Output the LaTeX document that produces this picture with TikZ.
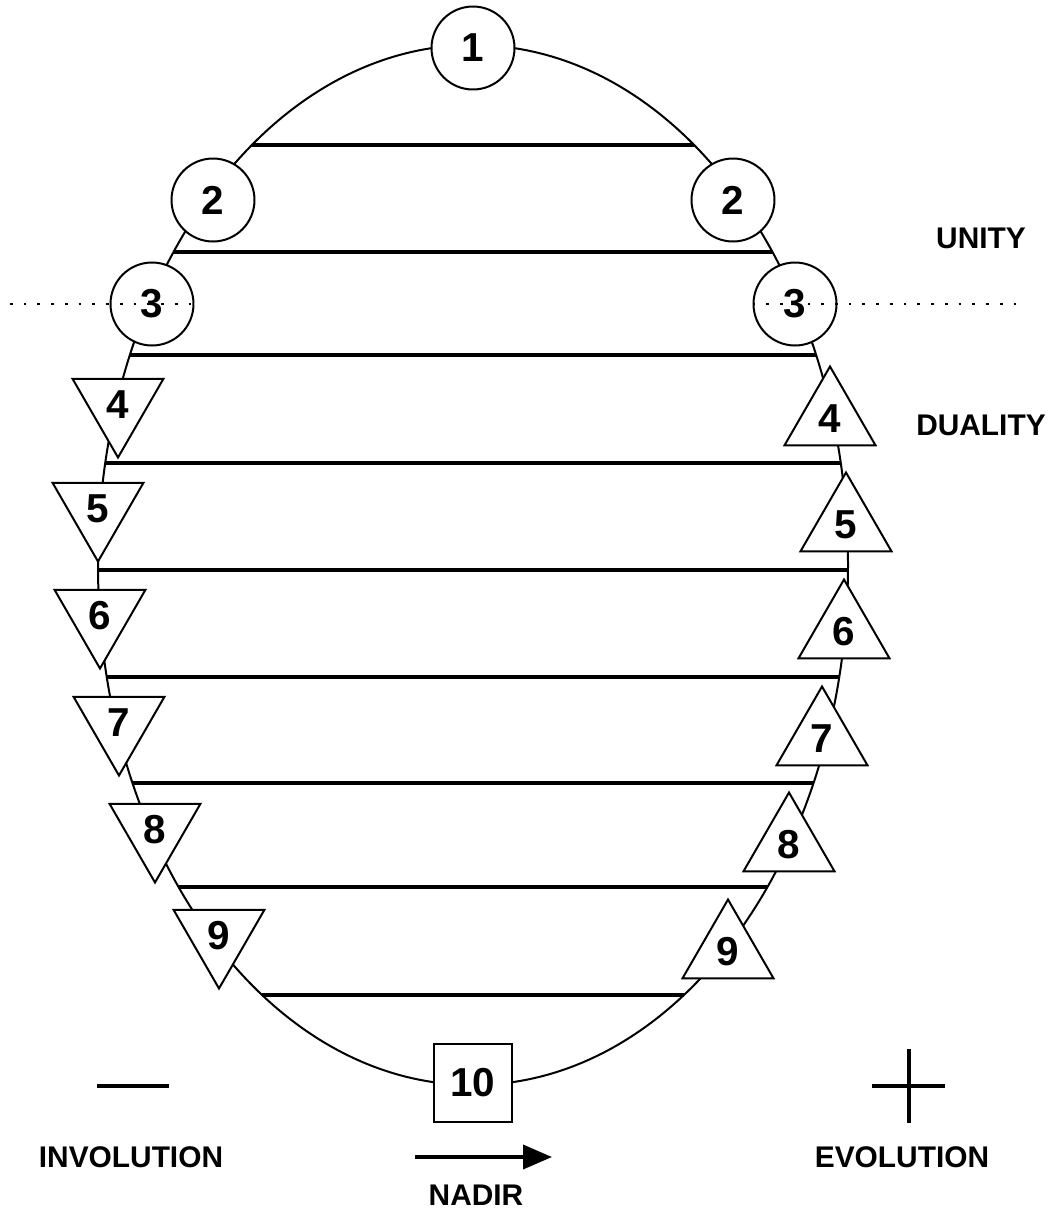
\documentclass[tikz,border=0pt]{standalone}
\usepackage{fontspec}
\setmainfont{Liberation Sans}
\usepackage{tikz}
\usetikzlibrary{shapes.geometric, arrows.meta}

\begin{document}
\begin{tikzpicture}[x=0.02cm, y=-0.02cm, line width=0.04cm]
	\tikzset{circ/.style={draw, circle, fill=white, minimum size=1.66cm, inner sep=0pt, font=\bfseries\fontsize{23}{25}\selectfont}}
	\tikzset{tridown/.style={draw, regular polygon, regular polygon sides=3, shape border rotate=180, fill=white, minimum size=2.1cm, inner sep=0pt, font=\bfseries\fontsize{23}{25}\selectfont}}
	\tikzset{triup/.style={draw, regular polygon, regular polygon sides=3, fill=white, minimum size=2.1cm, inner sep=0pt, font=\bfseries\fontsize{23}{25}\selectfont}}
	\tikzset{sq/.style={draw, rectangle, fill=white, minimum size=1.55cm, inner sep=0pt, font=\bfseries\fontsize{23}{25}\selectfont}}
	\tikzset{rung/.style={line width=0.075cm}}
	\tikzset{horizon/.style={line width=0.055cm, dash pattern=on 0.055cm off 0.22cm}}
	\tikzset{lbl/.style={font=\bfseries\fontsize{17}{19}\selectfont}}
	\tikzset{arrow/.style={-{Triangle[length=0.58cm, width=0.48cm]}, line width=0.075cm}}

	\fill[white] (0,0) rectangle (1048,1211);
	\useasboundingbox (0,0) rectangle (1048,1211);

	% the egg
	\draw (473,565) ellipse [x radius=375, y radius=520];
	\foreach \yy in {145,252,355,463,570,677,783,887,995} {
		\pgfmathsetmacro{\hw}{375*sqrt(1-((\yy-565)/520)*((\yy-565)/520))}
		\draw[rung] (473-\hw,\yy) -- (473+\hw,\yy);
	}

	\node (c1) [circ] at (473,48) {1};
	\node (c2l) [circ] at (213,200) {2};
	\node (c2r) [circ] at (733,200) {2};
	\node (c3l) [circ] at (152,304) {3};
	\node (c3r) [circ] at (795,304) {3};

	% involution side
	\foreach \n/\px/\py in {4/118/405, 5/98/509, 6/100/616, 7/119/723, 8/155/830, 9/219/936}
		\node (dn\n) [tridown] at (\px,\py) {\n};
	% evolution side
	\foreach \n/\px/\py in {4/830/419, 5/846/525, 6/844/632, 7/822/739, 8/789/845, 9/728/952}
		\node (up\n) [triup] at (\px,\py) {\n};

	\node (c10) [sq] at (473,1083) {10};

	% horizon
	\coordinate (hl) at (10,304);
	\coordinate (hr) at (1023,304);
	\draw[horizon] (hl) -- (c3l.east);
	\draw[horizon] (c3r.west) -- (hr);

	\node (unity) [lbl] at (981,238) {UNITY};
	\node (duality) [lbl] at (981,425) {DUALITY};
	\node (invol) [lbl] at (131,1157) {INVOLUTION};
	\node (evol) [lbl] at (902,1157) {EVOLUTION};
	\node (nadir) [lbl] at (476,1195) {NADIR};

	% signs
	\draw[rung] (97,1086) -- (169,1086);
	\draw[rung] (872,1086) -- (945,1086);
	\draw[rung] (909,1049) -- (909,1123);

	\coordinate (arrS) at (415,1157);
	\coordinate (arrE) at (552,1157);
	\draw[arrow] (arrS) -- (arrE);
\end{tikzpicture}
\end{document}
